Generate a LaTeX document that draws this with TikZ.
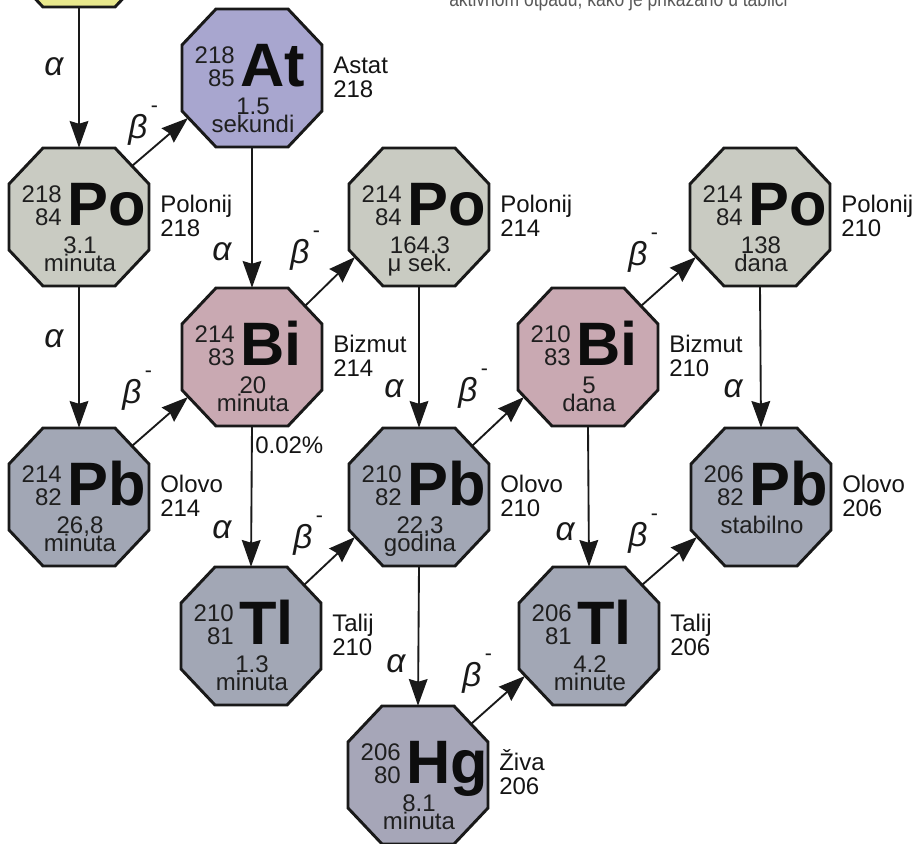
\documentclass[tikz,border=0pt]{standalone}
\usepackage{fontspec}
\setmainfont{Liberation Sans}
\usetikzlibrary{arrows.meta}
\definecolor{cYel}{HTML}{E8E88C}
\definecolor{cAt}{HTML}{A8A6CF}
\definecolor{cPo}{HTML}{C9CBC2}
\definecolor{cBi}{HTML}{C9A9B2}
\definecolor{cPb}{HTML}{A2A7B5}
\definecolor{cHg}{HTML}{A6A6B8}
\tikzset{
 octo/.style={draw=black!90, line width=2.2pt, line join=miter},
 hold/.style={draw=none, inner sep=0pt, minimum width=105pt, minimum height=103.5pt},
 mass/.style={anchor=base east, inner sep=0pt, font=\fontsize{18}{18}\selectfont, text=black!88},
 sym/.style={anchor=base west, inner sep=0pt, font=\fontsize{46}{46}\selectfont\bfseries, text=black!95},
 time/.style={anchor=base, inner sep=0pt, text height=0.7em, text depth=0pt, font=\fontsize{18}{18}\selectfont, text=black!88},
 side/.style={anchor=base west, inner sep=0pt, font=\fontsize{18}{18}\selectfont, text=black!92},
 greek/.style={anchor=base, inner sep=0pt, font=\fontsize{25}{25}\selectfont\itshape, text=black!90},
 greekb/.style={anchor=base west, inner sep=0pt, font=\fontsize{25}{25}\selectfont\itshape, text=black!90},
 arr/.style={draw=black!90, line width=1.4pt, -{Stealth[length=20pt,width=14pt,inset=2pt]}},
 hdr/.style={anchor=base west, inner sep=0pt, font=\fontsize{16}{16}\selectfont, text=black!65},
}
\newcommand\octpath{(-36,-69) -- (36,-69) -- (70,-33) -- (70,33) -- (36,69) -- (-36,69) -- (-70,33) -- (-70,-33) -- cycle}
\newcommand\nuc[9]{%
 \begin{scope}[shift={(#2,#3)}]
  \filldraw[octo, fill=#4] \octpath;
  \node[hold] (#1) at (0,0) {};
  \coordinate (#1-ne) at (53,-51);
  \coordinate (#1-sw) at (-64,40);
  \node[mass] (#1-a) at (-17,-15) {#5};
  \node[mass] (#1-z) at (-17,8) {#6};
  \node[sym] (#1-s) at (-12,8) {#7};
  \node[time] (#1-t) at (1,36) {#8};
  \node[time] (#1-u) at (1,54) {#9};
 \end{scope}}
\newcommand\sidelab[5]{%
  \node[side] (#1-l1) at (#2+81,#3-5) {#4};
  \node[side] (#1-l2) at (#2+81,#3+19) {#5};}
\newcommand\bm{β\raisebox{0.76em}{\fontsize{16}{16}\selectfont\upshape\,-}}
\begin{document}
\begin{tikzpicture}[x=0.75pt,y=-0.75pt]
\useasboundingbox (0,0) rectangle (914,843);
\clip (0,0) rectangle (914,843);
\fill[white] (0,0) rectangle (914,843);
% header text (cut off at the top edge)
\node[hdr] (head) at (449,6) {\scalebox{0.82}[1]{aktivnom otpadu, kako je prikazano u tablici}};
% yellow (cut off)
\begin{scope}[shift={(79,-62)}]
  \filldraw[octo, fill=cYel] \octpath;
  \node[hold] (rn) at (0,0) {};
\end{scope}
\nuc{at}{252}{78}{cAt}{218}{85}{At}{1.5}{sekundi}
\nuc{poa}{79}{217}{cPo}{218}{84}{Po}{3.1}{minuta}
\nuc{pob}{419}{217}{cPo}{214}{84}{Po}{164.3}{μ sek.}
\nuc{poc}{760}{217}{cPo}{214}{84}{Po}{138}{dana}
\nuc{bia}{252}{357}{cBi}{214}{83}{Bi}{20}{minuta}
\nuc{bib}{588}{357}{cBi}{210}{83}{Bi}{5}{dana}
\nuc{pba}{79}{497}{cPb}{214}{82}{Pb}{26,8}{minuta}
\nuc{pbb}{419}{497}{cPb}{210}{82}{Pb}{22,3}{godina}
\nuc{pbc}{761}{497}{cPb}{206}{82}{Pb}{stabilno}{}
\nuc{tla}{251}{636}{cPb}{210}{81}{Tl}{1.3}{minuta}
\nuc{tlb}{589}{636}{cPb}{206}{81}{Tl}{4.2}{minute}
\nuc{hg}{418}{775}{cHg}{206}{80}{Hg}{8.1}{minuta}
% side labels
\sidelab{at}{252}{78}{Astat}{218}
\sidelab{poa}{79}{217}{Polonij}{218}
\sidelab{pob}{419}{217}{Polonij}{214}
\sidelab{poc}{760}{217}{Polonij}{210}
\sidelab{bia}{252}{357}{Bizmut}{214}
\sidelab{bib}{588}{357}{Bizmut}{210}
\sidelab{pba}{79}{497}{Olovo}{214}
\sidelab{pbb}{419}{497}{Olovo}{210}
\sidelab{pbc}{761}{497}{Olovo}{206}
\sidelab{tla}{251}{636}{Talij}{210}
\sidelab{tlb}{589}{636}{Talij}{206}
\sidelab{hg}{418}{775}{Živa}{206}
% alpha arrows
\draw[arr] (rn.south) -- (poa.north);
\draw[arr] (at.south) -- (bia.north);
\draw[arr] (poa.south) -- (pba.north);
\draw[arr] (bia.south) -- (tla.north);
\draw[arr] (pob.south) -- (pbb.north);
\draw[arr] (pbb.south) -- (hg.north);
\draw[arr] (bib.south) -- (tlb.north);
\draw[arr] (poc.south) -- (pbc.north);
% beta arrows
\draw[arr] (poa-ne) -- (at-sw);
\draw[arr] (pba-ne) -- (bia-sw);
\draw[arr] (bia-ne) -- (pob-sw);
\draw[arr] (tla-ne) -- (pbb-sw);
\draw[arr] (pbb-ne) -- (bib-sw);
\draw[arr] (bib-ne) -- (poc-sw);
\draw[arr] (tlb-ne) -- (pbc-sw);
\draw[arr] (hg-ne) -- (tlb-sw);
% alpha labels
\node[greek] (al1) at (54,75) {α};
\node[greek] (al2) at (222,260) {α};
\node[greek] (al3) at (54,347) {α};
\node[greek] (al4) at (222,538) {α};
\node[greek] (al5) at (394,397) {α};
\node[greek] (al6) at (396,672) {α};
\node[greek] (al7) at (565,540) {α};
\node[greek] (al8) at (733,397) {α};
% beta labels
\node[greekb] (be1) at (128,138) {\bm};
\node[greekb] (be2) at (122,403) {\bm};
\node[greekb] (be3) at (290,263) {\bm};
\node[greekb] (be4) at (293,548) {\bm};
\node[greekb] (be5) at (458,401) {\bm};
\node[greekb] (be6) at (628,265) {\bm};
\node[greekb] (be7) at (628,546) {\bm};
\node[greekb] (be8) at (462,686) {\bm};
% branching ratio
\node[side] (pct) at (255,453) {0.02\%};
\end{tikzpicture}
\end{document}
